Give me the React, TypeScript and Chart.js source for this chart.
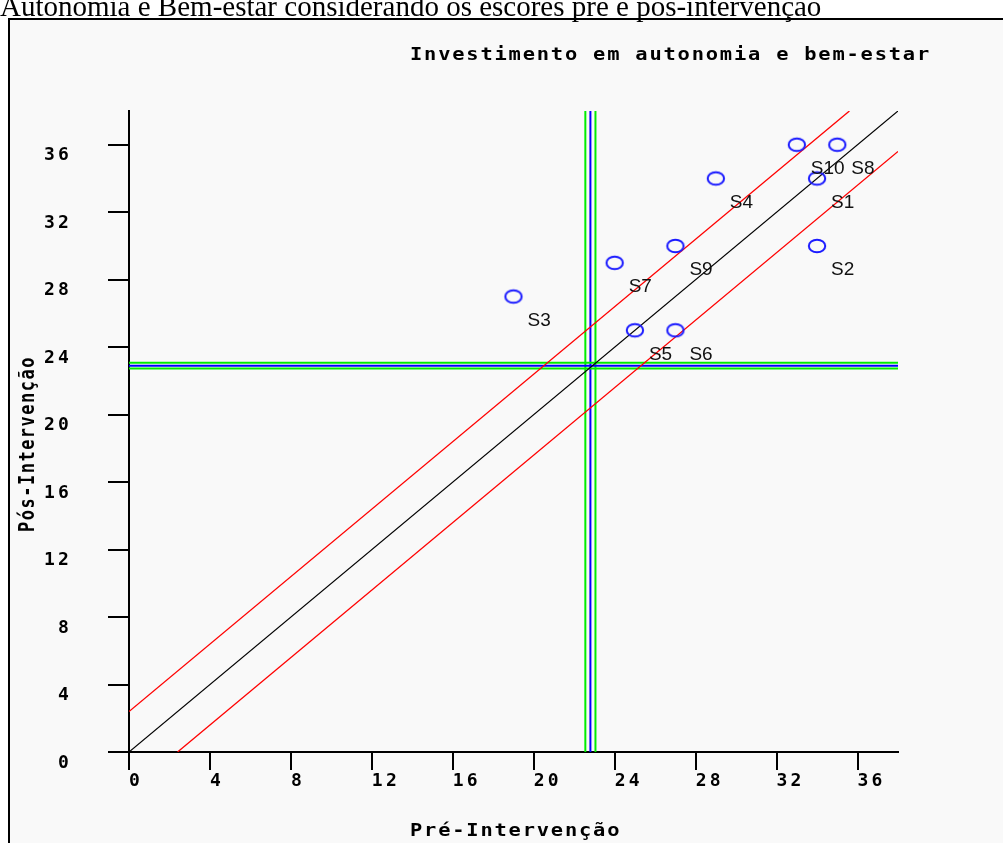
import React, { useEffect, useRef } from 'react';
import { Chart, registerables } from 'chart.js';

Chart.register(...registerables);

const caption = 'Autonomia e Bem-estar considerando os escores pré e pós-intervenção';
const chartTitle = 'Investimento em autonomia e bem-estar';
const xAxisTitle = 'Pré-Intervenção';
const yAxisTitle = 'Pós-Intervenção';

const subjects = ['S1', 'S2', 'S3', 'S4', 'S5', 'S6', 'S7', 'S8', 'S9', 'S10'];
const preScores = [34, 34, 19, 29, 25, 27, 24, 35, 27, 33];
const postScores = [34, 30, 27, 34, 25, 25, 29, 36, 30, 36];

const axisMin = 0;
const axisMax = 38;
const tickStep = 4;

const identityLine = [[0, 0], [38, 38]];
const upperLimit = [[0, 2.4], [35.6, 38]];
const lowerLimit = [[2.4, 0], [38, 35.6]];

const cutoffPre = 22.8;
const cutoffPreBand = [22.55, 23.05];
const cutoffPost = 22.9;
const cutoffPostBand = [22.74, 23.07];

const monoFont = '"DejaVu Sans Mono"';

function toPts(arr: number[][]) {
  return arr.map(([x, y]) => ({ x, y }));
}

function vLine(x: number) {
  return [{ x, y: axisMin }, { x, y: axisMax }];
}
function hLine(y: number) {
  return [{ x: axisMin, y }, { x: axisMax, y }];
}

function makeMarker(): HTMLCanvasElement {
  const c = document.createElement('canvas');
  c.width = 22;
  c.height = 18;
  const g = c.getContext('2d')!;
  g.strokeStyle = '#1a1aff';
  g.lineWidth = 2;
  g.beginPath();
  g.ellipse(11, 9, 8.2, 6.3, 0, 0, Math.PI * 2);
  g.stroke();
  return c;
}

const textPlugin = {
  id: 'textPlugin',
  beforeDraw(chart: any) {
    chart.ctx.letterSpacing = '3.2px';
  },
  afterDraw(chart: any) {
    const ctx = chart.ctx;
    const sx = 1.2;
    ctx.save();
    ctx.fillStyle = '#000';
    ctx.font = `bold 17px ${monoFont}`;
    ctx.letterSpacing = '1.5px';
    ctx.textAlign = 'left';
    ctx.textBaseline = 'middle';
    ctx.save();
    ctx.scale(sx, 1);
    ctx.fillText(chartTitle, 400 / sx, 36);
    ctx.fillText(xAxisTitle, 400 / sx, 812);
    ctx.restore();
    ctx.save();
    ctx.translate(19, 424);
    ctx.rotate(-Math.PI / 2);
    ctx.scale(1, sx);
    ctx.textAlign = 'center';
    ctx.fillText(yAxisTitle, 0, 0);
    ctx.restore();
    ctx.restore();

    ctx.save();
    ctx.letterSpacing = '0px';
    ctx.font = '19px "Liberation Sans"';
    ctx.fillStyle = '#111';
    ctx.textAlign = 'left';
    ctx.textBaseline = 'middle';
    const xs = chart.scales.x;
    const ys = chart.scales.y;
    subjects.forEach((s, i) => {
      ctx.fillText(s, xs.getPixelForValue(preScores[i]) + 14, ys.getPixelForValue(postScores[i]) + 24);
    });
    ctx.restore();
  },
};

export default function App() {
  const ref = useRef<HTMLCanvasElement>(null);

  useEffect(() => {
    if (!ref.current) return;
    const marker = makeMarker();
    const lineDs = (data: any[], color: string, width: number) => ({
      type: 'scatter' as const,
      data,
      showLine: true,
      borderColor: color,
      backgroundColor: color,
      borderWidth: width,
      pointRadius: 0,
      fill: false,
    });
    const tickFont = { family: monoFont, size: 18, weight: 'bold' };
    const chart = new Chart(ref.current, {
      type: 'scatter',
      data: {
        datasets: [
          {
            data: preScores.map((x, i) => ({ x, y: postScores[i] })),
            pointStyle: marker as any,
            pointRadius: 9,
            showLine: false,
            borderColor: '#1a1aff',
            backgroundColor: 'transparent',
          },
          lineDs(toPts(identityLine), '#000000', 1.2),
          lineDs(toPts(upperLimit), '#ff0000', 1.3),
          lineDs(toPts(lowerLimit), '#ff0000', 1.3),
          lineDs(hLine(cutoffPost), '#0000ff', 2),
          lineDs(hLine(cutoffPostBand[0]), '#00ee00', 2),
          lineDs(hLine(cutoffPostBand[1]), '#00ee00', 2),
          lineDs(vLine(cutoffPre), '#0000ff', 2),
          lineDs(vLine(cutoffPreBand[0]), '#00ee00', 2),
          lineDs(vLine(cutoffPreBand[1]), '#00ee00', 2),
        ],
      },
      options: {
        animation: false,
        responsive: false,
        devicePixelRatio: 1,
        events: [],
        layout: { padding: { top: 91, right: 105, left: 0, bottom: 0 } },
        plugins: {
          legend: { display: false },
          tooltip: { enabled: false },
          title: { display: false },
        },
        scales: {
          x: {
            type: 'linear',
            position: 'bottom',
            min: axisMin,
            max: axisMax,
            afterFit: (s: any) => {
              s.height = 91;
            },
            ticks: {
              stepSize: tickStep,
              includeBounds: false,
              align: 'start',
              padding: 1,
              autoSkip: false,
              maxRotation: 0,
              color: '#000',
              font: tickFont,
            },
            grid: { drawOnChartArea: false, drawTicks: true, tickLength: 18, color: '#000', lineWidth: 2 },
            border: { display: true, color: '#000', width: 2 },
          },
          y: {
            type: 'linear',
            position: 'left',
            min: axisMin,
            max: axisMax,
            afterFit: (s: any) => {
              s.width = 119;
            },
            ticks: {
              stepSize: tickStep,
              includeBounds: false,
              labelOffset: 11,
              padding: 36,
              autoSkip: false,
              color: '#000',
              font: tickFont,
            },
            grid: { drawOnChartArea: false, drawTicks: true, tickLength: 21, color: '#000', lineWidth: 2 },
            border: { display: true, color: '#000', width: 2 },
          },
        },
      } as any,
      plugins: [textPlugin],
    });
    return () => chart.destroy();
  }, []);

  return (
    <div style={{ position: 'fixed', left: 0, top: 0, width: 1003, height: 843, overflow: 'hidden', background: '#fff' }}>
      <div
        style={{
          position: 'absolute',
          left: 8,
          top: 18,
          width: 1100,
          height: 900,
          border: '2px solid #000',
          boxSizing: 'border-box',
          background: '#f9f9f9',
        }}
      />
      <canvas
        ref={ref}
        width={993}
        height={823}
        style={{ position: 'absolute', left: 10, top: 20, width: 993, height: 823 }}
      />
      <div
        style={{
          position: 'absolute',
          left: 0,
          top: -10,
          whiteSpace: 'nowrap',
          fontFamily: '"Liberation Serif", "Times New Roman", serif',
          fontSize: 29,
          lineHeight: 'normal',
          color: '#000',
          zIndex: 2,
        }}
      >
        {caption}
      </div>
    </div>
  );
}
